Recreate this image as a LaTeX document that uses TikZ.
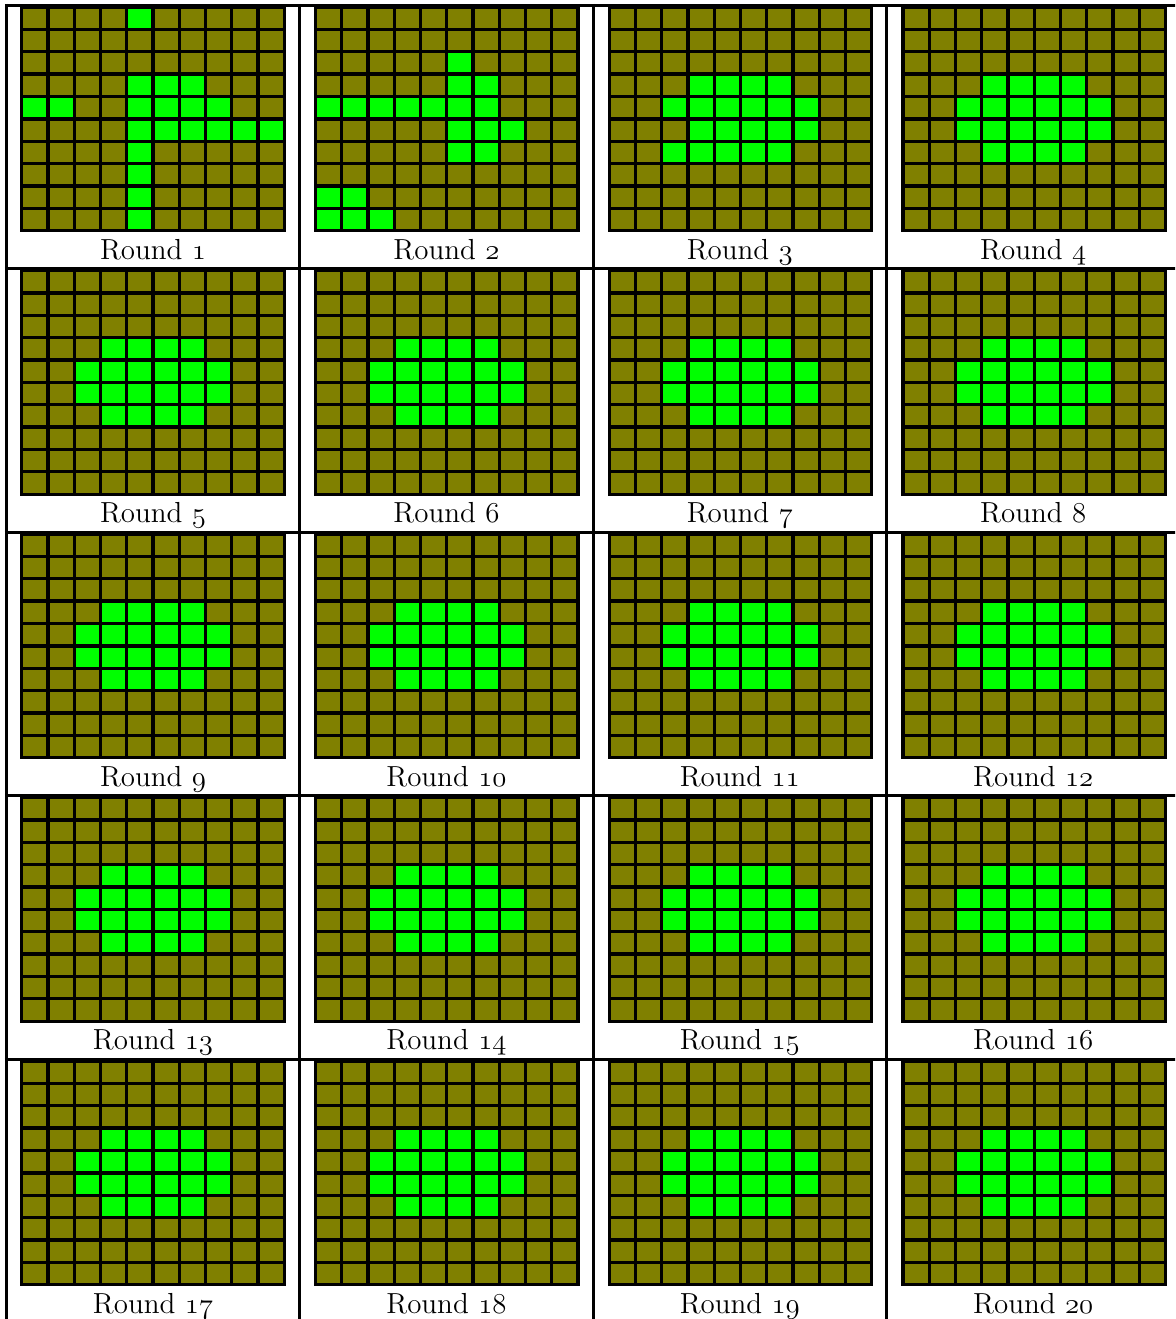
\documentclass[tikz,border=0pt]{standalone}
\definecolor{olivecell}{RGB}{128,128,0}
\definecolor{greencell}{RGB}{0,255,0}
\newcommand\osdigits[1]{{\usefont{OML}{cmm}{m}{it}#1}}
\tikzset{
  cellbox/.style={fill=olivecell},
  livebox/.style={fill=greencell},
  gridline/.style={line width=1.65pt, black, line cap=rect},
  tableline/.style={line width=1.5pt, black},
  roundlabel/.style={anchor=base, inner sep=0pt, font=\fontsize{14.5}{17}\selectfont},
}
\def\patA{4/0, 4/3,5/3,6/3, 0/4,1/4,4/4,5/4,6/4,7/4, 4/5,5/5,6/5,7/5,8/5,9/5, 4/6,4/7,4/8,4/9}
\def\patB{5/2, 5/3,6/3, 0/4,1/4,2/4,3/4,4/4,5/4,6/4, 5/5,6/5,7/5, 5/6,6/6, 0/8,1/8, 0/9,1/9,2/9}
\def\patC{3/3,4/3,5/3,6/3, 2/4,3/4,4/4,5/4,6/4,7/4, 3/5,4/5,5/5,6/5,7/5, 2/6,3/6,4/6,5/6,6/6}
\def\patD{3/3,4/3,5/3,6/3, 2/4,3/4,4/4,5/4,6/4,7/4, 2/5,3/5,4/5,5/5,6/5,7/5, 3/6,4/6,5/6,6/6}
\newcommand\lifegrid[3]{%
  \fill[cellbox] (#1,#2) rectangle ++(262.5,223.7);
  \foreach \gc/\gr in #3 {
    \fill[livebox] ({#1+\gc*26.25},{#2+\gr*22.37}) rectangle ++(26.25,22.37);
  }
  \foreach \k in {0,...,10} {
    \draw[gridline] ({#1+\k*26.25},#2) -- ++(0,223.7);
    \draw[gridline] (#1,{#2+\k*22.37}) -- ++(262.5,0);
  }
}
\begin{document}
\begin{tikzpicture}[x=0.5pt,y=-0.5pt]
\useasboundingbox (0,0) rectangle (1175,1319);
\begin{scope}
\clip (0,0) rectangle (1175,1319);
\foreach \n in {1,...,20} {
  \pgfmathtruncatemacro\cc{mod(\n-1,4)}
  \pgfmathtruncatemacro\rr{(\n-1)/4}
  \pgfmathsetmacro\gx{21.67+293.75*\cc}
  \pgfmathsetmacro\gy{7+263.5*\rr}
  \ifcase\n\relax\or\let\pat\patA\or\let\pat\patB\or\let\pat\patC\else\let\pat\patD\fi
  \lifegrid{\gx}{\gy}{\pat}
  \pgfmathsetmacro\lx{153+293.4*\cc}
  \pgfmathsetmacro\ly{259.3+263.5*\rr}
  \node[roundlabel] (cap\n) at (\lx,\ly) {Round \osdigits{\n}};
}
\foreach \k in {0,...,4} {
  \draw[tableline] (4.8,{5.3+263.5*\k}) -- (1180,{5.3+263.5*\k});
}
\foreach \k in {0,...,3} {
  \draw[tableline] ({6.3+293.4*\k},3.8) -- ({6.3+293.4*\k},1330);
}
\end{scope}
\end{tikzpicture}
\end{document}
